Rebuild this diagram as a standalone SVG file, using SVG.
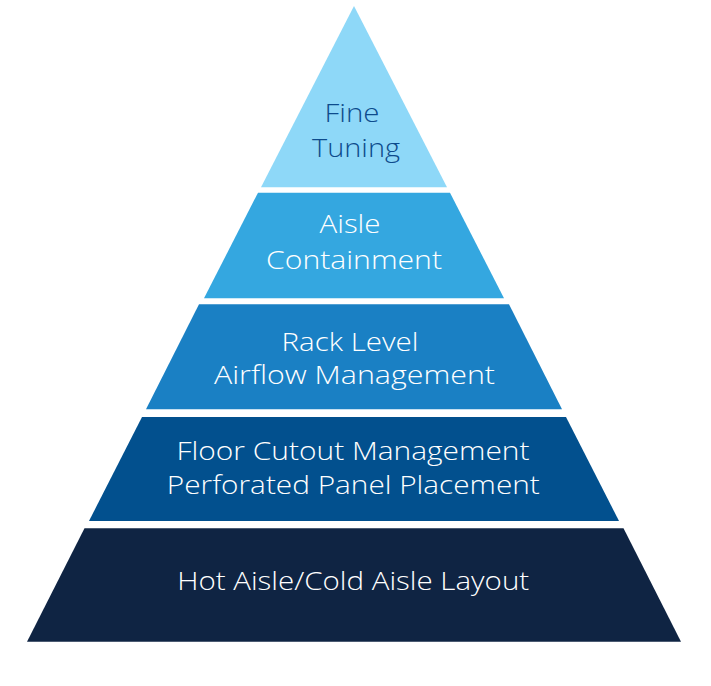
<svg xmlns="http://www.w3.org/2000/svg" width="711" height="686" viewBox="0 0 711 686">
<style>
.lbl{font-family:"Open Sans","Liberation Sans",sans-serif;font-size:25px;font-weight:300;fill:#ffffff;text-anchor:middle}
.dk{fill:#0d4b8c}
</style>
<rect width="711" height="686" fill="#ffffff"/>
<g id="level1">
<polygon points="354,6 447,187.3 261,187.3" fill="#8ed8f8"/>
<text class="lbl dk" x="352" y="121.5" textLength="55" lengthAdjust="spacingAndGlyphs">Fine</text>
<text class="lbl dk" x="356" y="156.5" textLength="88" lengthAdjust="spacingAndGlyphs">Tuning</text>
</g>
<g id="level2">
<polygon points="258,192.7 450,192.7 504,298.3 204,298.3" fill="#34a7e0"/>
<text class="lbl" x="350" y="233.3" textLength="61" lengthAdjust="spacingAndGlyphs">Aisle</text>
<text class="lbl" x="354" y="269" textLength="176" lengthAdjust="spacingAndGlyphs">Containment</text>
</g>
<g id="level3">
<polygon points="199,304.3 509,304.3 562,409.3 146,409.3" fill="#1a80c4"/>
<text class="lbl" x="350" y="350.7" textLength="137" lengthAdjust="spacingAndGlyphs">Rack Level</text>
<text class="lbl" x="354.5" y="384.3" textLength="281" lengthAdjust="spacingAndGlyphs">Airflow Management</text>
</g>
<g id="level4">
<polygon points="142,417 566,417 619,521 89,521" fill="#02508e"/>
<text class="lbl" x="353" y="460" textLength="353" lengthAdjust="spacingAndGlyphs">Floor Cutout Management</text>
<text class="lbl" x="353.3" y="494.3" textLength="373" lengthAdjust="spacingAndGlyphs">Perforated Panel Placement</text>
</g>
<g id="level5">
<polygon points="84.5,528.3 623.5,528.3 681,641.7 27,641.7" fill="#0f2443"/>
<text class="lbl" x="353.2" y="590" textLength="352" lengthAdjust="spacingAndGlyphs">Hot Aisle/Cold Aisle Layout</text>
</g>
<g id="connectors"></g>
</svg>
